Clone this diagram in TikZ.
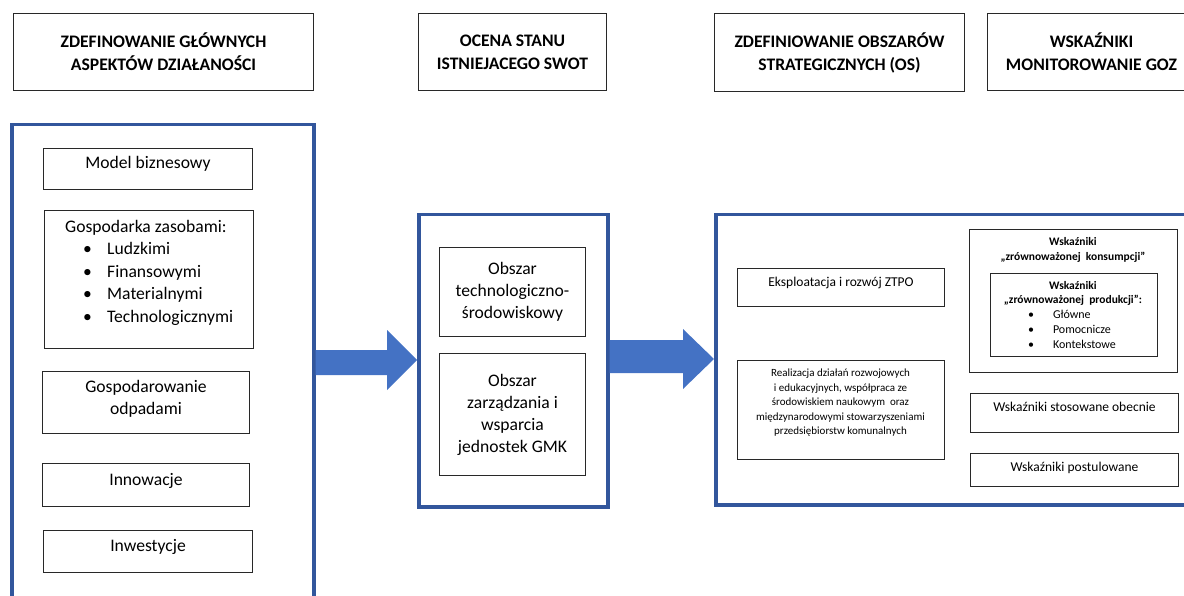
\documentclass[tikz,border=0pt]{standalone}
\usepackage{fontspec}
\setmainfont{Carlito}
\usetikzlibrary{calc}
\definecolor{panelblue}{RGB}{50,86,156}
\definecolor{arrowblue}{RGB}{68,114,196}
\definecolor{boxline}{RGB}{40,40,40}
\begin{document}
\begin{tikzpicture}[x=1pt,y=-1pt,
  head/.style={draw=boxline, line width=1pt, align=center, anchor=north west, inner sep=0pt, font=\bfseries\fontsize{17.6}{23}\selectfont},
  item/.style={draw=boxline, line width=1pt, align=center, anchor=north west, inner sep=0pt, font=\fontsize{17.6}{22}\selectfont},
  small/.style={draw=boxline, line width=1pt, align=center, anchor=north west, inner sep=0pt, font=\fontsize{13.5}{15}\selectfont},
  plainbox/.style={draw=boxline, line width=1pt, anchor=north west, inner sep=0pt},
  panel/.style={draw=panelblue, line width=3.5pt, anchor=north west, inner sep=0pt},
  blockarrow/.style={fill=arrowblue, draw=none}]

\useasboundingbox (0,0) rectangle (1184,596);

% headings
\node[head, minimum width=300, minimum height=77] (h1) at (13,13) {ZDEFINOWANIE GŁÓWNYCH\\ASPEKTÓW DZIAŁANOŚCI};
\node[head, minimum width=188, minimum height=77] (h2) at (418,13) {OCENA STANU\\ISTNIEJACEGO SWOT};
\node[head, minimum width=250, minimum height=78] (h3) at (714,13) {ZDEFINIOWANIE OBSZARÓW\\STRATEGICZNYCH (OS)};
\node[head, minimum width=208, minimum height=77] (h4) at (987,13) {WSKAŹNIKI\\MONITOROWANIE GOZ};

% panels
\node[panel, minimum width=302, minimum height=490] (lp) at (10,123) {};
\node[panel, minimum width=189, minimum height=292] (mp) at (417,213) {};
\node[panel, minimum width=490, minimum height=290] (rp) at (714,213) {};

% left panel items
\node[item, text depth=14pt, minimum width=209, minimum height=41] (mb) at (43,148) {Model biznesowy};
\node[plainbox, minimum width=209, minimum height=138] (gz) at (44,210) {};
\node[anchor=north west, align=left, inner sep=0pt, font=\fontsize{17.6}{22.5}\selectfont] (gztxt) at (65,220)
  {Gospodarka zasobami:\\
   \hspace*{18pt}\makebox[24pt][l]{\textbullet}Ludzkimi\\
   \hspace*{18pt}\makebox[24pt][l]{\textbullet}Finansowymi\\
   \hspace*{18pt}\makebox[24pt][l]{\textbullet}Materialnymi\\
   \hspace*{18pt}\makebox[24pt][l]{\textbullet}Technologicznymi};
\node[item, text depth=10pt, minimum width=207, minimum height=62] (go) at (42,371) {Gospodarowanie\\odpadami};
\node[item, text depth=12pt, minimum width=207, minimum height=43] (in) at (42,463) {Innowacje};
\node[item, text depth=12pt, minimum width=209, minimum height=42] (iw) at (43,530) {Inwestycje};

% middle panel items
\node[item, minimum width=146, minimum height=89] (ot) at (439,247) {Obszar\\technologiczno-\\środowiskowy};
\node[item, minimum width=146, minimum height=122] (oz) at (439,353) {Obszar\\zarządzania i\\wsparcia\\jednostek GMK};

% right panel items
\node[small, text depth=11pt, minimum width=207, minimum height=38] (ek) at (737,268) {Eksploatacja i rozwój ZTPO};
\node[plainbox, minimum width=207, minimum height=99] (rz) at (737,360) {};
\node[anchor=north, align=center, inner sep=0pt, font=\fontsize{11}{14.5}\selectfont] (rztxt) at (840.5,369)
  {Realizacja działań rozwojowych\\i edukacyjnych, współpraca ze\\środowiskiem naukowym\ \ oraz\\międzynarodowymi stowarzyszeniami\\przedsiębiorstw komunalnych};

\node[plainbox, minimum width=208, minimum height=143] (kz) at (969,229) {};
\node[anchor=north, align=center, inner sep=0pt, font=\bfseries\fontsize{11.5}{15}\selectfont] (kztxt) at (1073,237)
  {Wskaźniki\\„zrównoważonej\ \ konsumpcji”};
\node[plainbox, minimum width=167, minimum height=83] (pz) at (990,273) {};
\node[anchor=north, align=center, inner sep=0pt, font=\fontsize{12}{14.7}\selectfont] (pztxt) at (1073,281)
  {\textbf{\fontsize{11.5}{14.7}\selectfont Wskaźniki}\\
   \textbf{\fontsize{11.5}{14.7}\selectfont „zrównoważonej\ \ produkcji”:}\\
   \makebox[90pt][l]{\makebox[25pt][l]{\textbullet}Główne}\\
   \makebox[90pt][l]{\makebox[25pt][l]{\textbullet}Pomocnicze}\\
   \makebox[90pt][l]{\makebox[25pt][l]{\textbullet}Kontekstowe}};
\node[small, text depth=13pt, minimum width=208, minimum height=39] (so) at (970,393) {Wskaźniki stosowane obecnie};
\node[small, text depth=7pt, minimum width=208, minimum height=33] (po) at (970,453) {Wskaźniki postulowane};

% block arrows
\fill[blockarrow] (lp.east |- 0,350) -- (387,350) -- (387,330) -- (mp.west |- 0,360) -- (387,390) -- (387,375) -- (lp.east |- 0,375) -- cycle;
\fill[blockarrow] (mp.east |- 0,340) -- (683,340) -- (683,329) -- (rp.west |- 0,359) -- (683,389) -- (683,373) -- (mp.east |- 0,373) -- cycle;
\end{tikzpicture}
\end{document}
